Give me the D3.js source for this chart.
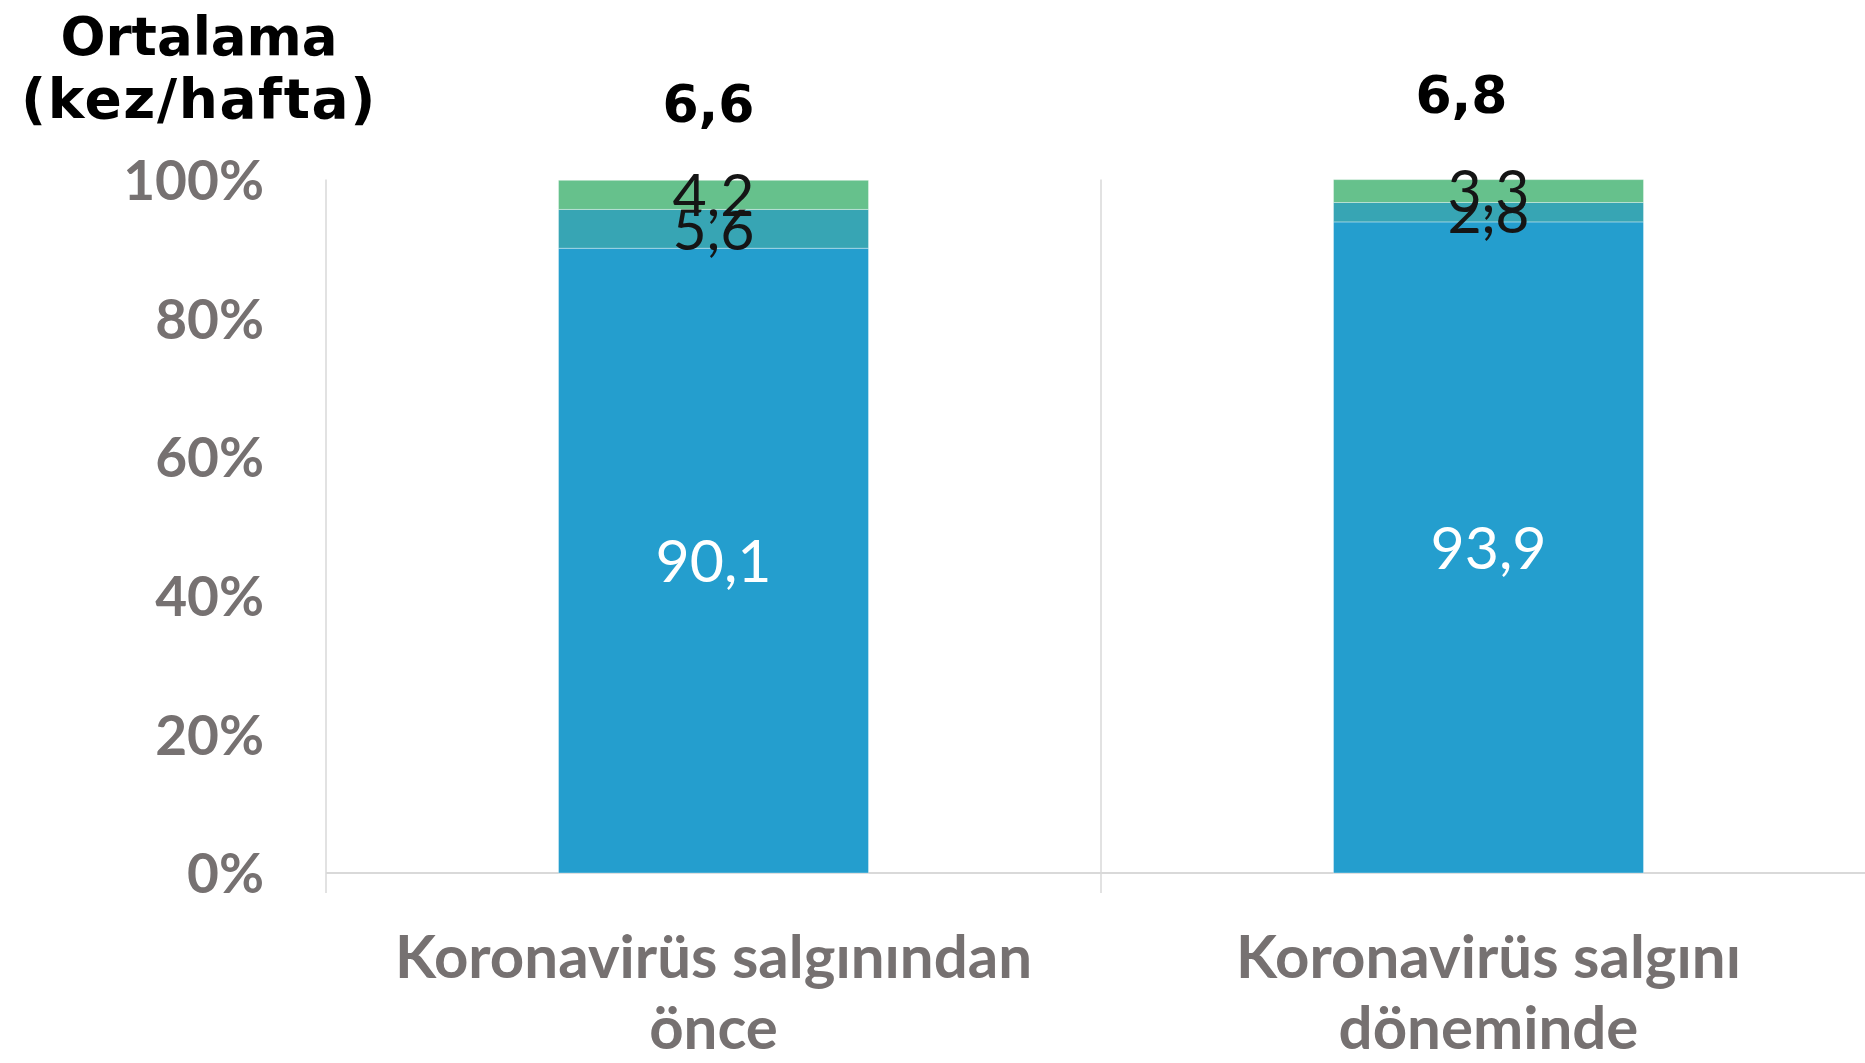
<!DOCTYPE html>
<html>
<head>
<meta charset="utf-8">
<script src="https://cdn.jsdelivr.net/npm/d3@7"></script>
<style>
  html, body { margin: 0; padding: 0; background: #ffffff; }
  svg { display: block; }
</style>
</head>
<body>
<div id="chart"></div>
<script>
// Chart values
const categories = ["Koronavirüs salgınından önce", "Koronavirüs salgını döneminde"];
const categoryLines = [["Koronavirüs salgınından", "önce"], ["Koronavirüs salgını", "döneminde"]];
const seriesKeys = ["s1", "s2", "s3"];
const series1 = [90.1, 93.9];
const series2 = [5.6, 2.8];
const series3 = [4.2, 3.3];
const averages = [6.6, 6.8];
const yTicks = [0, 20, 40, 60, 80, 100];
const titleLines = ["Ortalama", "(kez/hafta)"];

const colors = { s1: "#249ECE", s2: "#37A5B4", s3: "#66C18C" };
const labelColors = { s1: "#ffffff", s2: "#151515", s3: "#151515" };

// Fixed page size, same as the reference
const svgWidth = 1865;
const svgHeight = 1063;

// plot area
const margin = { top: 179.6, left: 326, bottom: 873 };
const plotRight = 1876;

const commaFmt = v => d3.format(".1f")(v).replace(".", ",");

const svg = d3.select("#chart").append("svg")
  .attr("width", svgWidth)
  .attr("height", svgHeight);

// build the table for d3.stack from the small arrays
const table = categories.map((c, i) => ({
  cat: c, s1: series1[i], s2: series2[i], s3: series3[i]
}));
const stacked = d3.stack().keys(seriesKeys)(table);

const x = d3.scaleBand()
  .domain(categories)
  .range([margin.left, plotRight])
  .padding(0);

const y = d3.scaleLinear()
  .domain([0, 100])
  .range([margin.bottom, margin.top]);

const barW = x.bandwidth() * 0.4;
const barX = c => x(c) + (x.bandwidth() - barW) / 2;
const barCenter = c => x(c) + x.bandwidth() / 2;

// vertical separators (y axis line + category boundaries), running a bit past the baseline
const gridColor = "#D9D9D9";
const sepX = categories.map(c => x(c)).concat([x.range()[1]]);
svg.append("g").selectAll("line")
  .data(sepX)
  .enter().append("line")
  .attr("x1", d => d).attr("x2", d => d)
  .attr("y1", y(100)).attr("y2", y(0) + 20)
  .attr("stroke", gridColor)
  .attr("stroke-width", 1.5);

// baseline
svg.append("line")
  .attr("x1", margin.left).attr("x2", plotRight)
  .attr("y1", y(0)).attr("y2", y(0))
  .attr("stroke", gridColor)
  .attr("stroke-width", 2);

// y axis labels
const yAxis = d3.axisLeft(y)
  .tickValues(yTicks)
  .tickFormat(d => d + "%")
  .tickSize(0)
  .tickPadding(62);

const yAxisG = svg.append("g")
  .attr("transform", `translate(${margin.left},0)`)
  .call(yAxis);
yAxisG.select(".domain").remove();
yAxisG.selectAll("text")
  .attr("font-family", "Lato, 'Open Sans', sans-serif")
  .attr("font-weight", "bold")
  .attr("font-size", "55px")
  .attr("fill", "#767171")
  .attr("dy", "0.36em");

// stacked bars
const layers = svg.append("g").selectAll("g")
  .data(stacked)
  .enter().append("g")
  .attr("fill", d => colors[d.key]);

layers.selectAll("rect")
  .data(d => d.map(p => Object.assign({ key: d.key }, p)))
  .enter().append("rect")
  .attr("x", d => barX(d.data.cat))
  .attr("width", barW)
  .attr("y", d => y(d[1]))
  .attr("height", d => y(d[0]) - y(d[1]))
  .attr("stroke", "#ffffff")
  .attr("stroke-opacity", 0.35)
  .attr("stroke-width", 1);

// segment value labels
layers.selectAll("text")
  .data(d => d.map(p => Object.assign({ key: d.key }, p)))
  .enter().append("text")
  .attr("x", d => barCenter(d.data.cat))
  .attr("y", d => (y(d[0]) + y(d[1])) / 2)
  .attr("dy", "0.36em")
  .attr("text-anchor", "middle")
  .attr("font-family", "Lato, 'Open Sans', sans-serif")
  .attr("font-size", "59px")
  .attr("fill", d => labelColors[d.key])
  .text(d => commaFmt(d[1] - d[0]));

// average labels above bars (hand-placed text boxes in the original)
const avgShift = [{ dx: -5, y: 122 }, { dx: -27, y: 113 }];
svg.append("g").selectAll("text")
  .data(averages)
  .enter().append("text")
  .attr("x", (d, i) => barCenter(categories[i]) + avgShift[i].dx)
  .attr("y", (d, i) => avgShift[i].y)
  .attr("text-anchor", "middle")
  .attr("font-family", "'DejaVu Sans', sans-serif")
  .attr("font-weight", "bold")
  .attr("font-size", "52px")
  .attr("fill", "#000000")
  .text(d => commaFmt(d));

// title in the top left corner
svg.append("text")
  .attr("text-anchor", "middle")
  .attr("font-family", "'DejaVu Sans', sans-serif")
  .attr("font-weight", "bold")
  .attr("fill", "#000000")
  .selectAll("tspan")
  .data(titleLines)
  .enter().append("tspan")
  .attr("x", 199)
  .attr("y", (d, i) => 55 + i * 63)
  .attr("font-size", (d, i) => i === 0 ? "53px" : "55px")
  .attr("letter-spacing", (d, i) => i === 0 ? "0px" : "1.6px")
  .text(d => d);

// category labels (two lines each)
const catG = svg.append("g").selectAll("text")
  .data(categories)
  .enter().append("text")
  .attr("text-anchor", "middle")
  .attr("font-family", "Lato, 'Open Sans', sans-serif")
  .attr("font-weight", "bold")
  .attr("font-size", "60px")
  .attr("fill", "#767171");

catG.selectAll("tspan")
  .data((d, i) => categoryLines[i].map(t => ({ t: t, c: d })))
  .enter().append("tspan")
  .attr("x", d => barCenter(d.c))
  .attr("y", (d, i) => 978 + i * 71)
  .text(d => d.t);
</script>
</body>
</html>
